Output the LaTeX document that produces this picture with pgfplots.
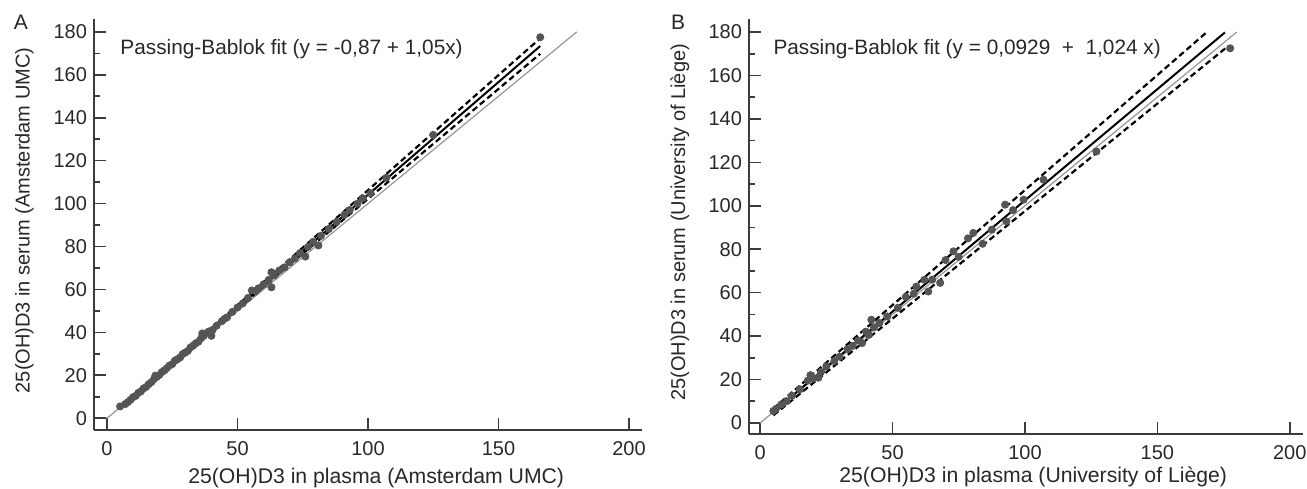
\documentclass[border=0pt]{standalone}
\usepackage{pgfplots}
\pgfplotsset{compat=1.18}
\usepackage{fontspec}
\setmainfont{Liberation Sans}

\definecolor{txt}{RGB}{40,40,40}
\definecolor{axc}{RGB}{60,60,60}
\definecolor{ptc}{RGB}{85,85,85}
\definecolor{idc}{RGB}{150,150,150}

% measured (plasma, serum) pairs
\pgfplotstableread{
x y
5 5.5
7 6.6
8 7.5
9 8.6
10 9.8
11 10.4
12 11.8
13 12.5
14 13.9
15 14.6
16 15.9
17 16.8
18 18.2
18.5 19.8
19 19.2
20 20.1
21 21.5
22 22.3
23 23.4
24 24.6
25 25.2
26 26.8
27 27.5
28 28.3
29 29.9
30 30.6
31 31.4
32 33.0
33 33.8
34 34.9
35 35.6
36 37.2
36.5 39.5
37 38.3
38 39.6
39 40.4
40 38.4
40.5 41.2
42 43.1
44 45.2
45 46.3
46 47.0
48 49.5
50 51.6
52 53.5
54 56.0
55.5 59.5
57 59.2
58 60.5
60 62.4
62 64.5
63 61.0
63 68.0
64 66.5
66 68.8
68 70.3
70 72.6
72 74.5
74 77.0
76 75.3
77 79.8
79 82.2
81 80.5
82 85.0
85 88.2
88 91.5
91 94.8
93 97.0
96 100.0
98 102.5
101 104.8
107 112.0
125 132.0
166 177.5
}\dataA

\pgfplotstableread{
x y
5 5.5
6 6.5
8 8.5
10 10.0
12 12.5
15 15.5
18 19.5
19 22.0
20 20.5
22 20.8
23 23.5
25 26.0
28 28.5
30 30.5
33 34.0
35 35.5
37 38.0
38.5 36.8
40 42.0
41 40.5
42 47.5
43 44.0
45 46.0
48 49.0
52 53.0
55 58.0
58 59.5
59 62.8
62 65.9
63.5 60.5
65 66.0
68 64.5
70 75.0
73 79.0
75 76.5
78.5 85.0
80.5 87.5
84 82.5
87.5 89.0
92.5 100.5
93 92.8
95.5 98.0
99.5 102.8
107 112.0
127 125.0
177.5 172.5
}\dataB

\pgfplotsset{
  pb/.style={
    scale only axis, width=274pt, height=205.5pt,
    axis x line=bottom, axis y line=left,
    axis line style={-, line width=1pt, color=axc},
    tick align=inside,
    major tick length=6pt, minor tick length=3pt,
    every tick/.style={line width=0.8pt, color=axc},
    xtick={0,50,...,200}, ytick={0,20,...,180},
    minor ytick={10,30,...,170},
    xmin=-5, xmax=205, ymin=-5.5, ymax=186,
    clip=false,
    /pgf/number format/assume math mode=true,
    ticklabel style={font=\fontsize{10}{12}\selectfont, text=txt},
    xticklabel style={yshift=-2pt},
    xlabel style={font=\fontsize{10.6}{12}\selectfont, text=txt},
    ylabel style={font=\fontsize{10}{12}\selectfont, text=txt},
  },
  pts/.style={only marks, mark=*, mark size=1.8pt, color=ptc},
  fit/.style={black, line width=1pt},
  ci/.style={black, line width=1.1pt, dash pattern=on 3pt off 1.8pt},
  ident/.style={idc, line width=0.6pt},
}

\begin{document}
\begin{tikzpicture}
\useasboundingbox (0,0) rectangle (653.5pt,244pt);

% panel A
\begin{axis}[pb, at={(47pt,29pt)},
  xlabel={25(OH)D3 in plasma (Amsterdam UMC)},
  ylabel={25(OH)D3 in serum (Amsterdam UMC)},
  xlabel style={at={(axis description cs:0.515,-0.117)}, anchor=center},
  ylabel style={at={(axis description cs:-0.127,0.51)}, anchor=center},
]
\addplot[ident] coordinates {(0,0) (180,180)};
\addplot[pts] table {\dataA};
\addplot[ci] coordinates {(5,4.4) (166,177)};
\addplot[ci] coordinates {(5,4.9) (166,169.8)};
\addplot[fit] coordinates {(5,4.4) (166,173.4)};
\node[anchor=base west, inner sep=0pt, text=txt, font=\fontsize{10.4}{12}\selectfont]
  at (axis cs:5,169.6) {Passing-Bablok fit (y = -0,87 + 1,05x)};
\end{axis}

% panel B
\begin{axis}[pb, at={(374.5pt,27pt)}, width=277pt, height=207.5pt,
  xmin=-4.2, ymin=-5.1,
  xlabel={25(OH)D3 in plasma (University of Liège)},
  ylabel={25(OH)D3 in serum (University of Liège)},
  xlabel style={at={(axis description cs:0.513,-0.104)}, anchor=center},
  ylabel style={at={(axis description cs:-0.125,0.51)}, anchor=center},
]
\addplot[ident] coordinates {(0,0) (180,180)};
\addplot[pts] table {\dataB};
\addplot[ci] coordinates {(5,6.6) (169,180.3)};
\addplot[ci] coordinates {(5,3.5) (176,172.8)};
\addplot[fit] coordinates {(5,5.2) (175.5,179.8)};
\node[anchor=base west, inner sep=0pt, text=txt, font=\fontsize{10.4}{12}\selectfont]
  at (axis cs:4.9,169.6) {Passing-Bablok fit (y = 0,0929~~+~~1,024 x)};
\end{axis}

\node[text=txt, font=\fontsize{10.5}{12}\selectfont] at (10.5pt,233pt) {A};
\node[text=txt, font=\fontsize{10.5}{12}\selectfont] at (339pt,233pt) {B};
\end{tikzpicture}
\end{document}
